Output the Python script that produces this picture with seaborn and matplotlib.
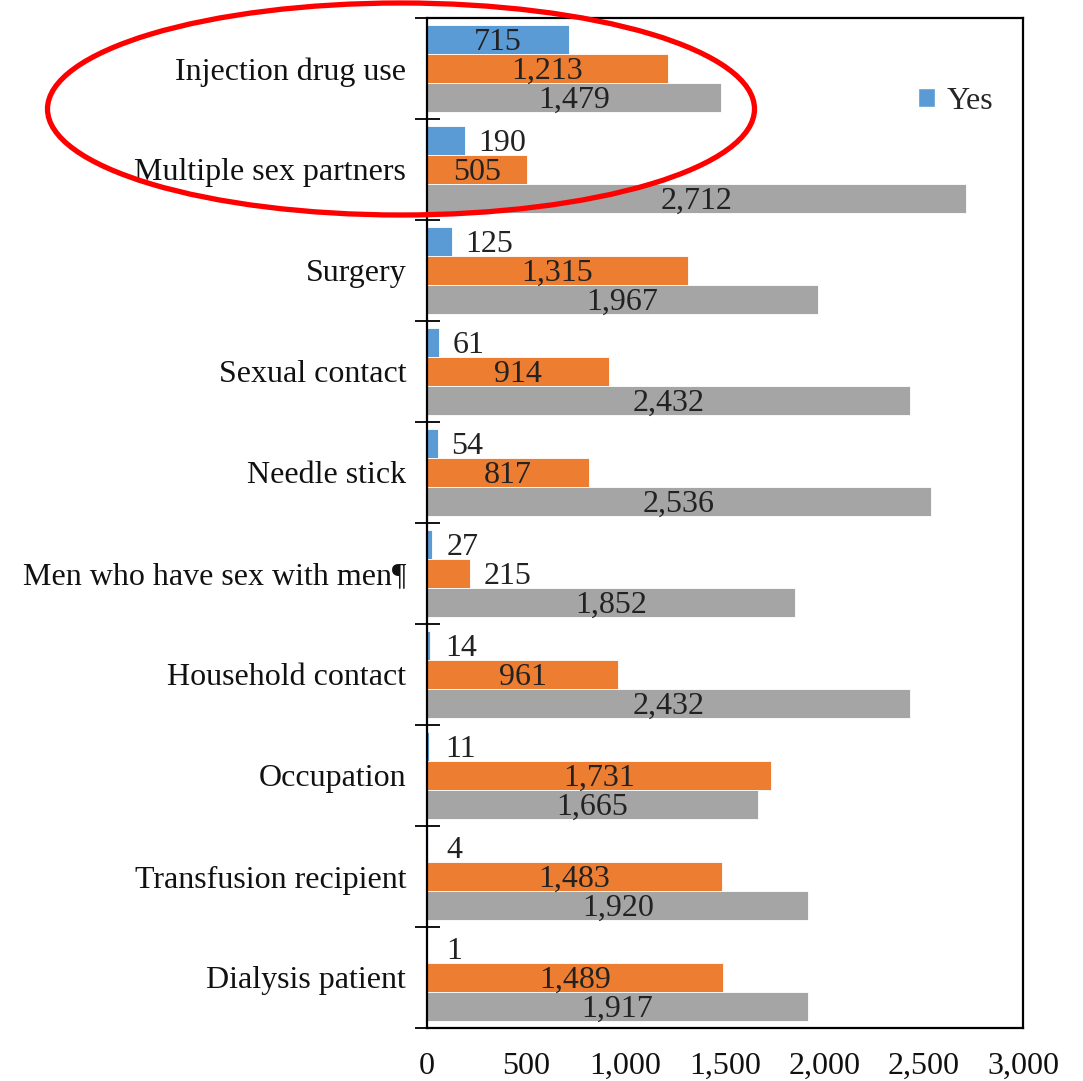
import matplotlib
matplotlib.use("Agg")
import matplotlib.pyplot as plt
import seaborn as sns
import pandas as pd
import numpy as np
from matplotlib.patches import Ellipse, Patch
from matplotlib.ticker import FuncFormatter, FixedLocator

categories = ["Injection drug use", "Multiple sex partners", "Surgery", "Sexual contact",
              "Needle stick", "Men who have sex with men¶", "Household contact",
              "Occupation", "Transfusion recipient", "Dialysis patient"]
series_names = ["Yes", "No", "Unknown"]
yes_vals = [715, 190, 125, 61, 54, 27, 14, 11, 4, 1]
no_vals = [1213, 505, 1315, 914, 817, 215, 961, 1731, 1483, 1489]
unk_vals = [1479, 2712, 1967, 2432, 2536, 1852, 2432, 1665, 1920, 1917]
x_ticks = [0, 500, 1000, 1500, 2000, 2500, 3000]
colors = ["#5B9BD5", "#ED7D31", "#A5A5A5"]

rows = []
for s, vals in zip(series_names, [yes_vals, no_vals, unk_vals]):
    for c, v in zip(categories, vals):
        rows.append({"category": c, "series": s, "value": v})
df = pd.DataFrame(rows)

sns.set_theme(style="white")
plt.rcParams['font.family'] = ['Liberation Serif', 'DejaVu Serif']

fig = plt.figure(figsize=(10.83, 10.81), dpi=100)
ax = fig.add_axes([427/1083, 1 - 1028/1081, (1023-427)/1083, (1028-18)/1081])

sns.barplot(data=df, y="category", x="value", hue="series", order=categories,
            hue_order=series_names, palette=colors, orient="h", width=0.86,
            edgecolor="white", linewidth=0.6, saturation=1, ax=ax, legend=False)

ax.set_xlim(0, 3000)
ax.set_ylim(len(categories) - 0.5, -0.5)
ax.set_xlabel("")
ax.set_ylabel("")
ax.set_xticks(x_ticks)
ax.xaxis.set_major_formatter(FuncFormatter(lambda v, p: f"{int(v):,}"))
ax.tick_params(axis="x", length=0, pad=17, labelsize=23, colors="#111111")
ax.tick_params(axis="y", which="major", left=True, length=0, pad=15, labelsize=23, colors="#111111")
ax.yaxis.set_minor_locator(FixedLocator(np.arange(-0.5, len(categories), 1.0)))
ax.tick_params(axis="y", which="minor", left=True, length=18, width=1.3,
               direction="inout", color="black")

for sp in ax.spines.values():
    sp.set_visible(True)
    sp.set_color("black")
    sp.set_linewidth(1.6)

for cont in ax.containers:
    for bar in cont:
        w = bar.get_width()
        yc = bar.get_y() + bar.get_height() / 2
        lab = f"{int(round(w)):,}"
        if w >= 300:
            ax.annotate(lab, (w / 2, yc), xytext=(0, -2), textcoords="offset points",
                        ha="center", va="center", fontsize=23, color="#222222")
        else:
            ax.annotate(lab, (w, yc), xytext=(max(10, 14 - w * 0.2), -2), textcoords="offset points",
                        ha="left", va="center", fontsize=23, color="#222222")

leg = ax.legend(handles=[Patch(facecolor=colors[0], label=series_names[0])],
                loc="upper left", bbox_to_anchor=((905 - 427) / 596, 1 - (74 - 18) / 1010),
                frameon=False, fontsize=23, handlelength=0.55, handleheight=0.55,
                handletextpad=0.35, borderaxespad=0)

ell = Ellipse((401 / 1083, 1 - 109 / 1081), 707 / 1083, 212 / 1081,
              transform=fig.transFigure, fill=False, edgecolor="#FF0000", linewidth=3.8,
              zorder=10)
fig.patches.append(ell)

fig.savefig("out.png", dpi=100)
